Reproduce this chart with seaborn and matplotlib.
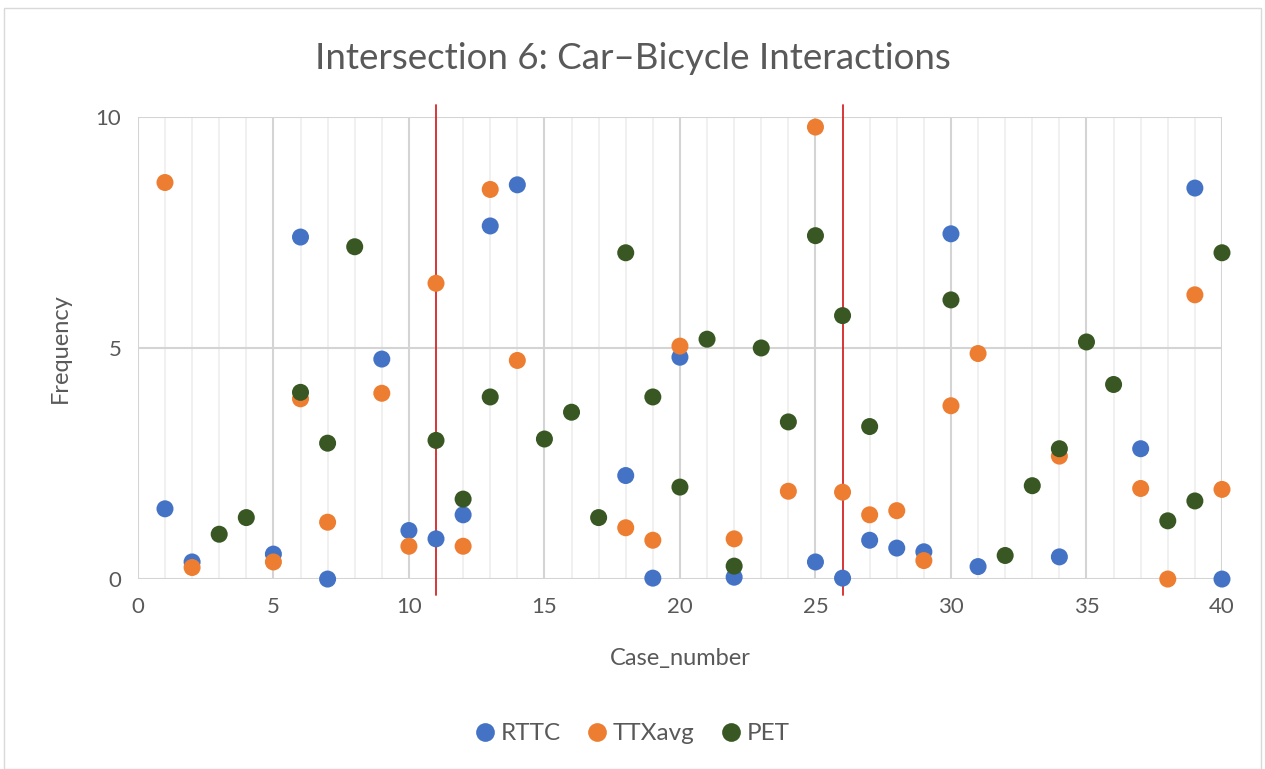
import pandas as pd
import matplotlib.pyplot as plt
import seaborn as sns
from matplotlib.ticker import MultipleLocator
from matplotlib.patches import Rectangle

# wartości
rttc_case = [1, 2, 5, 6, 7, 9, 10, 11, 12, 13, 14, 18, 19, 20, 22, 25, 26, 27, 28, 29,
             30, 31, 34, 37, 39, 40]
rttc_val = [1.52, 0.37, 0.54, 7.40, 0.0, 4.76, 1.05, 0.87, 1.39, 7.64, 8.53, 2.24, 0.02,
            4.80, 0.04, 0.37, 0.02, 0.84, 0.67, 0.59, 7.47, 0.27, 0.48, 2.82, 8.46, 0.0]

ttx_case = [1, 2, 5, 6, 7, 9, 10, 11, 12, 13, 14, 18, 19, 20, 22, 24, 25, 26, 27, 28,
            29, 30, 31, 34, 37, 38, 39, 40]
ttx_val = [8.58, 0.25, 0.37, 3.90, 1.23, 4.02, 0.71, 6.40, 0.71, 8.43, 4.73, 1.11, 0.84,
           5.04, 0.87, 1.90, 9.78, 1.88, 1.39, 1.48, 0.40, 3.75, 4.88, 2.66, 1.96, 0.0,
           6.15, 1.94]

pet_case = [3, 4, 6, 7, 8, 11, 12, 13, 15, 16, 17, 18, 19, 20, 21, 22, 23, 24, 25, 26,
            27, 30, 32, 33, 34, 35, 36, 38, 39, 40]
pet_val = [0.97, 1.33, 4.04, 2.94, 7.19, 3.00, 1.73, 3.94, 3.03, 3.61, 1.33, 7.06, 3.94,
           1.99, 5.19, 0.28, 5.00, 3.40, 7.43, 5.70, 3.30, 6.04, 0.51, 2.02, 2.82, 5.13,
           4.21, 1.26, 1.69, 7.06]

red_lines = [11, 26]

series = ["RTTC", "TTXavg", "PET"]
colors = {"RTTC": "#4472C4", "TTXavg": "#ED7D31", "PET": "#385723"}

df = pd.concat([
    pd.DataFrame({"Case_number": rttc_case, "Frequency": rttc_val, "Metric": "RTTC"}),
    pd.DataFrame({"Case_number": ttx_case, "Frequency": ttx_val, "Metric": "TTXavg"}),
    pd.DataFrame({"Case_number": pet_case, "Frequency": pet_val, "Metric": "PET"}),
], ignore_index=True)

sns.set_style("white")
plt.rcParams["font.family"] = ["Lato", "DejaVu Sans"]

fig = plt.figure(figsize=(12.65, 7.69), dpi=100)
ax = fig.add_axes([0.109, 0.247, 0.857, 0.601])

sns.scatterplot(data=df, x="Case_number", y="Frequency", hue="Metric",
                hue_order=series, palette=colors, s=150, linewidth=0,
                ax=ax, zorder=3, clip_on=False)

ax.set_xlim(0, 40)
ax.set_ylim(0, 10)
ax.xaxis.set_major_locator(MultipleLocator(5))
ax.xaxis.set_minor_locator(MultipleLocator(1))
ax.yaxis.set_major_locator(MultipleLocator(5))
ax.grid(which="major", axis="both", color="#d4d4d4", linewidth=1.5)
ax.grid(which="minor", axis="x", color="#ededed", linewidth=1.2)
ax.set_axisbelow(True)
for sp in ax.spines.values():
    sp.set_visible(False)
ax.tick_params(which="both", length=0, labelsize=16, labelcolor="#595959")
ax.tick_params(axis="x", pad=13)
ax.tick_params(axis="y", pad=12)

# czerwone linie podziału
for xv in red_lines:
    ax.plot([xv, xv], [-0.35, 10.25], color="#d62728", linewidth=1.3,
            clip_on=False, zorder=2)

ax.set_xlabel("Case_number", fontsize=17, color="#595959", labelpad=22)
ax.set_ylabel("Frequency", fontsize=17, color="#595959", labelpad=18)
fig.suptitle("Intersection 6: Car\u2013Bicycle Interactions", fontsize=26.5,
             color="#595959", y=0.945)

handles, labels = ax.get_legend_handles_labels()
ax.legend_.remove()
fig.legend(handles, labels, loc="center", bbox_to_anchor=(0.5, 0.046), ncol=3,
           frameon=False, fontsize=17.5, handlelength=0.8, handletextpad=0.25,
           columnspacing=1.1, markerscale=1.1, labelcolor="#595959")

fig.patches.append(Rectangle((0.003, 0.0), 0.994, 0.99, transform=fig.transFigure,
                             fill=False, edgecolor="#d9d9d9", linewidth=1))

fig.savefig("out.png", dpi=100)
